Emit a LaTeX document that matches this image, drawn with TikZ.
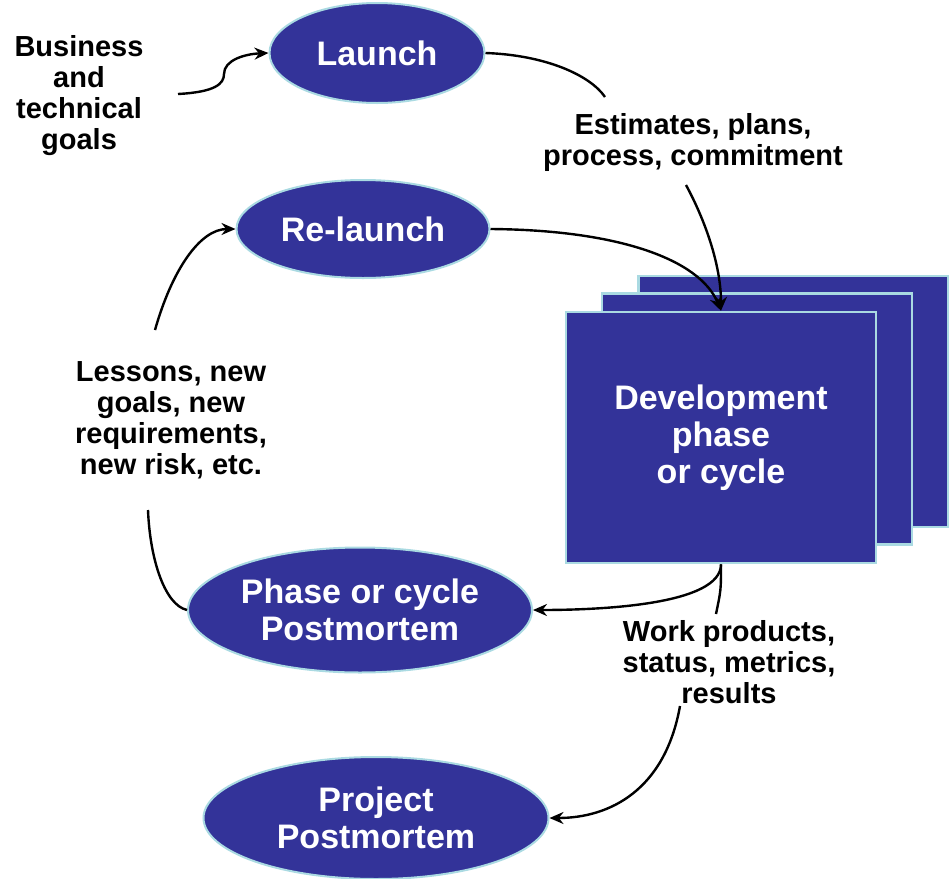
\documentclass[tikz,border=0pt]{standalone}
\usepackage{fontspec}
\setmainfont{Liberation Sans}
\usepackage{xcolor}
\usepackage{tikz}
\usetikzlibrary{calc}
\usetikzlibrary{shapes.geometric,arrows.meta}
\definecolor{nila}{RGB}{51,51,153}
\definecolor{tepi}{RGB}{170,218,226}

\begin{document}
\begin{tikzpicture}[x=0.5pt,y=-0.5pt,
        bulat/.style={ellipse, fill=nila, draw=tepi, line width=1pt, inner sep=0pt,
            align=center, text=white, font=\fontsize{17}{18.5}\selectfont\bfseries},
        kotak/.style={rectangle, fill=nila, draw=tepi, line width=1.3pt, inner sep=0pt,
            minimum width=155pt, minimum height=125.5pt,
            align=center, text=white, font=\fontsize{17}{18.5}\selectfont\bfseries},
        teks/.style={align=center, inner sep=0pt, font=\fontsize{14.5}{15.5}\selectfont\bfseries},
        garis/.style={line width=1.2pt},
        panah/.style={garis, -{Stealth[length=7pt,width=6pt]}}]
        %BATAS
        \useasboundingbox (0,0) rectangle (949,879);

        %ELIPS
        \node[bulat, minimum width=107.5pt, minimum height=50pt] (launch) at (377,53) {Launch};
        \node[bulat, minimum width=126.5pt, minimum height=49pt] (relaunch) at (363,229) {Re-launch};
        \node[bulat, minimum width=172pt, minimum height=62.5pt] (phasepm) at (360,610) {Phase or cycle\\Postmortem};
        \node[bulat, minimum width=172.5pt, minimum height=61pt] (projpm) at (376,818) {Project\\Postmortem};

        %KOTAK
        \node[kotak] (devback) at (793.5,401.5) {};
        \node[kotak] (devmid) at (757,419) {};
        \node[kotak] (dev) at (721,437.5) {Development\\phase\\or cycle};

        %TEKS
        \node[teks] (goals) at (79,96) {Business\\and\\technical\\goals};
        \node[teks] (estim) at (693,142) {Estimates, plans,\\process, commitment};
        \node[teks] (lessons) at (171,420) {Lessons, new\\goals, new\\requirements,\\new risk, etc.};
        \node[teks] (work) at (729,662) {Work products,\\status, metrics,\\results};

        %TITIK
        \coordinate (goalsout) at (178,94);
        \coordinate (estimin) at (605,97);
        \coordinate (estimout) at (686,185);
        \coordinate (lessonsin) at (148,510);
        \coordinate (lessonsout) at (155,330);
        \coordinate (workin) at (716,614);
        \coordinate (workout) at (680,706);

        %PANAH
        \draw[panah] (goalsout) .. controls (215,92) and (224,84) .. (224,74)
            .. controls (224,60) and (245,54) .. (launch.west);
        \draw[garis] (launch.east) .. controls (545,55) and (590,75) .. (estimin);
        \draw[panah] (estimout) .. controls (705,220) and (721,265) .. (dev.north);
        \draw[panah] (relaunch.east) .. controls (620,230) and (700,260) .. (dev.north);
        \draw[panah] (dev.south) .. controls (721,605) and (600,610) .. (phasepm.east);
        \draw[garis] (dev.south) .. controls (721,590) .. (workin);
        \draw[panah] (workout) .. controls (665,790) and (610,818) .. (projpm.east);
        \draw[garis] (phasepm.west) .. controls (165,605) and (150,560) .. (lessonsin);
        \draw[panah] (lessonsout) .. controls (172,270) and (200,229) .. (relaunch.west);
\end{tikzpicture}
\end{document}
